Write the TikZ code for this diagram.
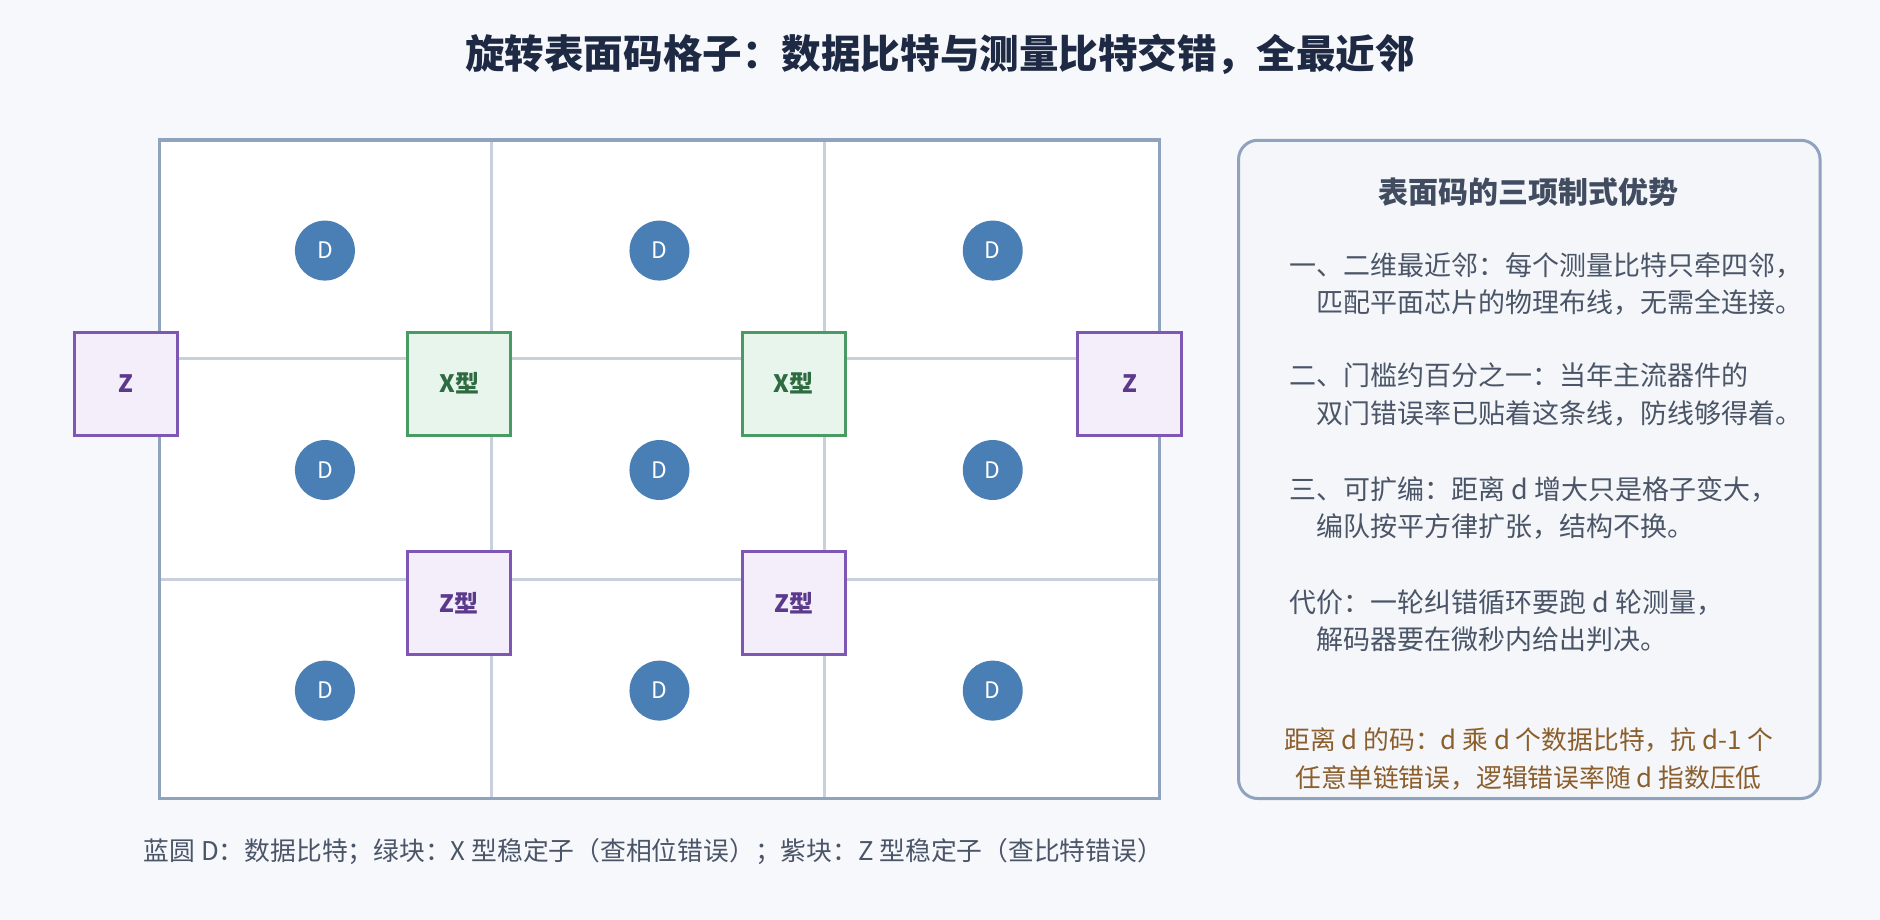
\documentclass[tikz,border=0pt]{standalone}
\usepackage{fontspec}
\setmainfont{Noto Sans CJK SC}
\begin{document}
\begin{tikzpicture}[x=1pt,y=-1pt,
 dq/.style={circle,fill=dblue,minimum size=50pt,inner sep=0pt,text=white,font=\fontsize{19}{21}\selectfont},
 zs/.style={draw=zpur,line width=2.5pt,fill=zfill,minimum size=86pt,inner sep=0pt,text=ztext,font=\fontsize{20}{22}\selectfont\bfseries},
 xs/.style={draw=xgrn,line width=2.5pt,fill=xfill,minimum size=86pt,inner sep=0pt,text=xtext,font=\fontsize{20}{22}\selectfont\bfseries},
 pt/.style={anchor=west,text=ptext,font=\fontsize{22.5}{31}\selectfont,align=left}]
\definecolor{bg}{HTML}{F7F8FC}
\definecolor{dblue}{HTML}{4A7FB5}
\definecolor{zpur}{HTML}{7E57B5}
\definecolor{zfill}{HTML}{F4EDFA}
\definecolor{ztext}{HTML}{5B3A8C}
\definecolor{xgrn}{HTML}{4A9A63}
\definecolor{xfill}{HTML}{E8F5EC}
\definecolor{xtext}{HTML}{2E6B40}
\definecolor{gline}{HTML}{C8D0DE}
\definecolor{gbord}{HTML}{8FA3BF}
\definecolor{ptext}{HTML}{4A5568}
\definecolor{navy}{HTML}{1E2A44}
\definecolor{brown}{HTML}{8B5E2B}
\fill[bg] (0,0) rectangle (1568,767);
\useasboundingbox (0,0) rectangle (1568,767);
\node[font=\fontsize{33}{36}\selectfont\bfseries,text=navy] (title) at (784,45) {旋转表面码格子：数据比特与测量比特交错，全最近邻};
\fill[white] (133,117) rectangle (967,666);
\draw[gline,line width=2.5pt] (410,117)--(410,666) (688,117)--(688,666) (133,299)--(967,299) (133,483)--(967,483);
\draw[gbord,line width=3pt] (133,117) rectangle (967,666);
\foreach \x [count=\i] in {271,550,828}{\foreach \y [count=\j] in {209,392,576}{\node[dq] (d\i\j) at (\x,\y) {D};}}
\node[zs] (z1) at (105,320) {Z};
\node[zs] (z2) at (942,320) {Z};
\node[xs] (x1) at (383,320) {X型};
\node[xs] (x2) at (662,320) {X型};
\node[zs] (z3) at (383,503) {Z型};
\node[zs] (z4) at (662,503) {Z型};
\draw[gbord,line width=2.5pt,fill=bg!60!gline!40!white,rounded corners=16pt] (1033,117) rectangle (1518,666);
\node[font=\fontsize{25}{28}\selectfont\bfseries,text=ptext!80!navy] (ph) at (1275,160) {表面码的三项制式优势};
\node[pt] (p1) at (1072,237) {一、二维最近邻：每个测量比特只牵四邻，\\\hspace{1em}匹配平面芯片的物理布线，无需全连接。};
\node[pt] (p2) at (1072,329) {二、门槛约百分之一：当年主流器件的\\\hspace{1em}双门错误率已贴着这条线，防线够得着。};
\node[pt] (p3) at (1072,424) {三、可扩编：距离 d 增大只是格子变大，\\\hspace{1em}编队按平方律扩张，结构不换。};
\node[pt] (p4) at (1072,518) {代价：一轮纠错循环要跑 d 轮测量，\\\hspace{1em}解码器要在微秒内给出判决。};
\node[text=brown,font=\fontsize{21.5}{31}\selectfont,align=center] (note) at (1275,633) {距离 d 的码：d 乘 d 个数据比特，抗 d-1 个\\任意单链错误，逻辑错误率随 d 指数压低};
\node[text=ptext,font=\fontsize{21.5}{24}\selectfont] (cap) at (545,710) {蓝圆 D：数据比特；绿块：X 型稳定子（查相位错误）；紫块：Z 型稳定子（查比特错误）};
\end{tikzpicture}
\end{document}
